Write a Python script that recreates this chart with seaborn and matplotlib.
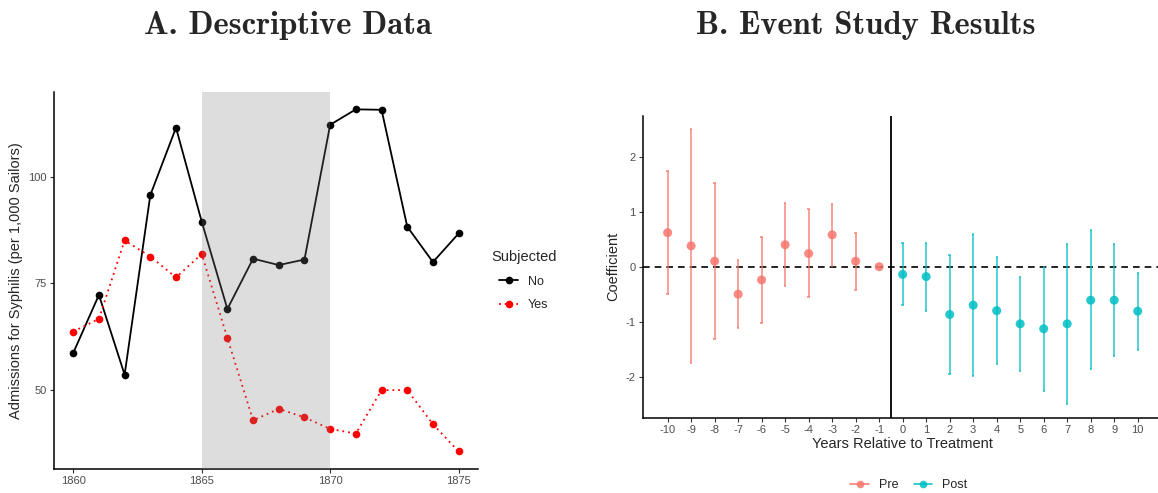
import numpy as np
import pandas as pd
import matplotlib
matplotlib.use("Agg")
import matplotlib.pyplot as plt
from matplotlib.lines import Line2D
import seaborn as sns

# panel A: admissions for syphilis per 1,000 sailors
years = list(range(1860, 1876))
rate_no = [58.7, 72.3, 53.6, 95.7, 111.5, 89.5, 69.0, 80.8, 79.3, 80.6,
           112.2, 115.8, 115.7, 88.3, 80.0, 86.7]
rate_yes = [63.7, 66.7, 85.1, 81.3, 76.4, 81.9, 62.2, 42.9, 45.6, 43.6,
            40.9, 39.8, 50.0, 50.0, 42.0, 35.6]
shade_start, shade_end = 1865, 1870

# panel B: event study coefficients
rel_years = list(range(-10, 11))
coef = [0.62, 0.38, 0.10, -0.50, -0.24, 0.40, 0.24, 0.58, 0.10, 0.0,
        -0.14, -0.18, -0.87, -0.70, -0.80, -1.04, -1.13, -1.04, -0.61, -0.61, -0.81]
ci_hi = [1.75, 2.50, 1.53, 0.13, 0.55, 1.16, 1.05, 1.14, 0.62, 0.0,
         0.43, 0.44, 0.22, 0.59, 0.18, -0.18, 0.0, 0.42, 0.66, 0.42, -0.11]
ci_lo = [-0.49, -1.75, -1.32, -1.12, -1.03, -0.35, -0.56, 0.02, -0.42, 0.0,
         -0.70, -0.80, -1.96, -1.99, -1.78, -1.90, -2.27, -2.50, -1.87, -1.62, -1.51]

df_a = pd.DataFrame({
    "Year": years * 2,
    "rate": rate_no + rate_yes,
    "Subjected": ["No"] * len(years) + ["Yes"] * len(years),
})
df_b = pd.DataFrame({"rel": rel_years, "coef": coef, "hi": ci_hi, "lo": ci_lo})
df_b["period"] = np.where(df_b["rel"] < 0, "Pre", "Post")

sns.set_style("white")
plt.rcParams["font.family"] = ["Liberation Sans", "DejaVu Sans"]
plt.rcParams["axes.unicode_minus"] = False

tick_col = "#4D4D4D"
pal_a = {"No": "black", "Yes": "#FF0000"}
pal_b = {"Pre": "#F8766D", "Post": "#00BFC4"}

fig = plt.figure(figsize=(11.58, 4.93), dpi=100)

# ---- panel A
ax1 = fig.add_axes([0.0466, 0.0487, 0.3661, 0.7641])
sns.lineplot(data=df_a, x="Year", y="rate", hue="Subjected", style="Subjected",
             palette=pal_a, dashes={"No": "", "Yes": (1, 2.2)},
             markers={"No": "o", "Yes": "o"}, markersize=5.5, markeredgewidth=0,
             linewidth=1.3, legend=False, ax=ax1)
ax1.axvspan(shade_start, shade_end, color="#7F7F7F", alpha=0.26, lw=0, zorder=5)
ax1.set_xlim(1859.25, 1875.75)
ax1.set_ylim(31.5, 119.8)
ax1.set_xticks([1860, 1865, 1870, 1875])
ax1.set_yticks([50, 75, 100])
ax1.set_xlabel("Year", fontsize=10.5, labelpad=6)
ax1.set_ylabel("Admissions for Syphilis (per 1,000 Sailors)", fontsize=10.5, labelpad=4)

leg_a = [Line2D([0], [0], color="black", lw=1.3, marker="o", ms=5.5, mew=0),
         Line2D([0], [0], color="#FF0000", lw=1.3, ls=(0, (1, 2.2)), marker="o", ms=5.5, mew=0)]
ax1.legend(leg_a, ["No", "Yes"], title="Subjected", loc="center left",
           bbox_to_anchor=(1.005, 0.5), frameon=False, fontsize=9,
           title_fontsize=10.5, handlelength=1.5, labelspacing=0.9)

# ---- panel B
ax2 = fig.add_axes([0.555, 0.1527, 0.449, 0.6126])
ax2.axhline(0, color="black", lw=1.2, ls=(0, (4, 3)), zorder=1)
ax2.axvline(-0.5, color="black", lw=1.3, zorder=1)
for per, sub in df_b.groupby("period"):
    ax2.vlines(sub["rel"], sub["lo"], sub["hi"], color=pal_b[per], lw=1.2, alpha=0.8, zorder=2)
    ax2.hlines(sub["hi"], sub["rel"] - 0.05, sub["rel"] + 0.05, color=pal_b[per], lw=1.2, alpha=0.8, zorder=2)
    ax2.hlines(sub["lo"], sub["rel"] - 0.05, sub["rel"] + 0.05, color=pal_b[per], lw=1.2, alpha=0.8, zorder=2)
sns.scatterplot(data=df_b, x="rel", y="coef", hue="period", palette=pal_b,
                s=42, linewidth=0, alpha=0.85, legend=False, ax=ax2, zorder=3)
ax2.set_xlim(-11.06, 11.06)
ax2.set_ylim(-2.75, 2.75)
ax2.set_xticks(rel_years)
ax2.set_yticks([-2, -1, 0, 1, 2])
ax2.set_xlabel("Years Relative to Treatment", fontsize=10.5, labelpad=2)
ax2.set_ylabel("Coefficient", fontsize=10.5, labelpad=4)

leg_b = [Line2D([0], [0], color=pal_b["Pre"], lw=1.3, marker="o", ms=5.5, mew=0, alpha=0.85),
         Line2D([0], [0], color=pal_b["Post"], lw=1.3, marker="o", ms=5.5, mew=0, alpha=0.85)]
fig.legend(leg_b, ["Pre", "Post"], loc="center", bbox_to_anchor=(909 / 1158, 1 - 485 / 493),
           ncol=2, frameon=False, fontsize=9, handlelength=1.5, columnspacing=1.2,
           handletextpad=0.8)

for ax in (ax1, ax2):
    sns.despine(ax=ax)
    for s in ("left", "bottom"):
        ax.spines[s].set_color("black")
        ax.spines[s].set_linewidth(1.1)
    ax.tick_params(axis="both", colors="#333333", labelcolor=tick_col, labelsize=8,
                   length=3, width=0.8, left=True, bottom=True, pad=2)

# titles
fig.text(288 / 1158, 1 - 25 / 493, "A. Descriptive Data", family="cmb10",
         fontsize=23.5, ha="center", va="center")
fig.text(866 / 1158, 1 - 25 / 493, "B. Event Study Results", family="cmb10",
         fontsize=23.5, ha="center", va="center")

fig.savefig("out.png", dpi=100)
